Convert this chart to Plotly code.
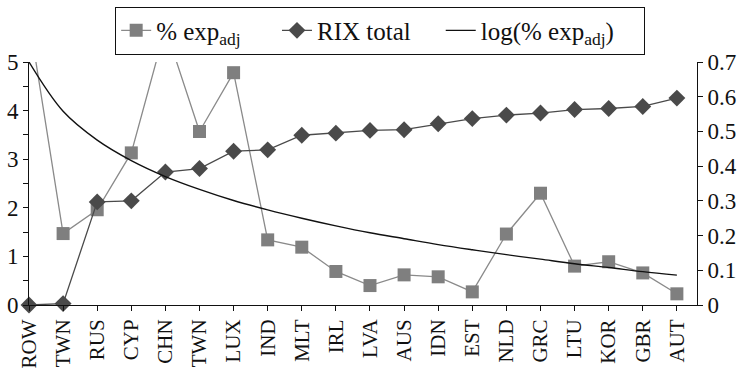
import plotly.graph_objects as go

categories = ["ROW", "TWN", "RUS", "CYP", "CHN", "TWN", "LUX", "IND", "MLT", "IRL",
              "LVA", "AUS", "IDN", "EST", "NLD", "GRC", "LTU", "KOR", "GBR", "AUT"]
exp_adj = [5.9, 1.47, 1.96, 3.13, 5.7, 3.57, 4.78, 1.34, 1.19, 0.69,
           0.40, 0.62, 0.58, 0.27, 1.46, 2.30, 0.80, 0.89, 0.66, 0.23]
rix_total = [0.0, 0.004, 0.297, 0.300, 0.383, 0.393, 0.443, 0.447, 0.489, 0.495,
             0.503, 0.505, 0.522, 0.537, 0.547, 0.553, 0.563, 0.566, 0.572, 0.596]
log_exp = [0.700, 0.558, 0.475, 0.416, 0.370, 0.333, 0.301, 0.274, 0.250, 0.228,
           0.208, 0.191, 0.174, 0.159, 0.145, 0.132, 0.119, 0.108, 0.096, 0.086]
left_ticks = [0, 1, 2, 3, 4, 5]
right_ticks = [0, 0.1, 0.2, 0.3, 0.4, 0.5, 0.6, 0.7]

xs = list(range(len(categories)))
FONT = "Liberation Serif"
NB = "\u00a0"

fig = go.Figure()
fig.add_trace(go.Scatter(
    x=xs, y=exp_adj, name="% exp<sub>adj</sub>" + NB * 5, mode="lines+markers",
    line=dict(color="#8a8a8a", width=1.3),
    marker=dict(symbol="square", size=13, color="#7f7f7f"),
))
fig.add_trace(go.Scatter(
    x=xs, y=rix_total, name="RIX total" + NB * 4, mode="lines+markers", yaxis="y2",
    line=dict(color="#4a4a4a", width=1.3),
    marker=dict(symbol="diamond", size=13, color="#4a4a4a"),
    cliponaxis=False,
))
fig.add_trace(go.Scatter(
    x=xs, y=log_exp, name="log(% exp<sub>adj</sub>)" + NB * 4, mode="lines", yaxis="y2",
    line=dict(color="#111111", width=1.4, shape="spline"),
))

fig.update_layout(
    width=739, height=373,
    margin=dict(l=29, r=42, t=62, b=68, autoexpand=False),
    paper_bgcolor="white", plot_bgcolor="white",
    font=dict(family=FONT, size=20, color="#111111"),
    showlegend=True,
    legend=dict(
        orientation="h", x=0.129, xanchor="left", y=1.228, yanchor="top",
        bordercolor="#111111", borderwidth=1, bgcolor="white",
        font=dict(family=FONT, size=25, color="#111111"),
        itemwidth=30,
    ),
    xaxis=dict(
        range=[0, 19.59], tickmode="array", tickvals=xs, ticktext=categories,
        tickangle=-90, showgrid=False, zeroline=False,
        showline=True, linecolor="#111111", linewidth=1,
        ticks="outside", ticklen=5, tickcolor="#111111",
        tickfont=dict(family=FONT, size=21),
    ),
    yaxis=dict(
        range=[0, 5], tickvals=left_ticks, showgrid=False, zeroline=False,
        showline=True, linecolor="#111111", linewidth=1,
        ticks="outside", ticklen=5, tickcolor="#111111",
        minor=dict(dtick=0.5, ticks="outside", ticklen=5, tickcolor="#111111"),
        tickfont=dict(family=FONT, size=23),
    ),
    yaxis2=dict(
        range=[0, 0.7], tickvals=right_ticks, overlaying="y", side="right",
        showgrid=False, zeroline=False,
        showline=True, linecolor="#111111", linewidth=1,
        ticks="outside", ticklen=5, tickcolor="#111111",
        tickfont=dict(family=FONT, size=23),
    ),
)

fig.write_html(
    "out.html",
    config={"displayModeBar": False},
    post_script="document.body.style.margin='0';document.body.style.padding='0';"
                "document.body.style.overflow='hidden';",
)
